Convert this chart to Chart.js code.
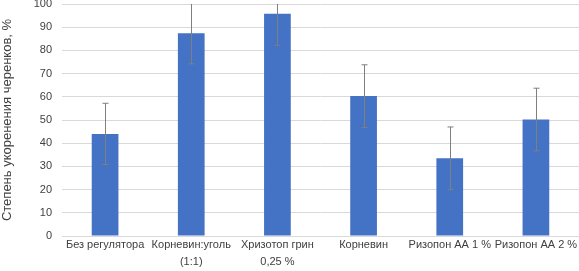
<!DOCTYPE html>
<html lang="ru">
<head>
    <meta charset="UTF-8">
    <title>Степень укоренения черенков</title>
    <script src="https://cdn.jsdelivr.net/npm/chart.js"></script>
    <style>
        body, html {
            margin: 0;
            padding: 0;
            background: #ffffff;
        }
        .chart-container {
            position: relative;
            width: 579px;
            height: 271px;
        }
    </style>
</head>
<body>
    <div class="chart-container">
        <canvas id="rootingChart"></canvas>
    </div>

    <script>
        const categories = [
            'Без регулятора',
            ['Корневин:уголь', '(1:1)'],
            ['Хризотоп грин', '0,25 %'],
            'Корневин',
            'Ризопон АА 1 %',
            'Ризопон АА 2 %'
        ];
        const rootingValues = [44, 87.4, 95.8, 60.3, 33.5, 50.2];
        const errorValues = [13.2, 13.2, 13.6, 13.5, 13.5, 13.5];
        const yTitle = 'Степень укоренения черенков, %';

        const fontFamily = "'Liberation Sans', Arial, sans-serif";

        // error bars drawn with the chart's own scales, clipped to the plot area
        const errorBarPlugin = {
            id: 'errorBars',
            afterDatasetsDraw(chart) {
                const ctx = chart.ctx;
                const meta = chart.getDatasetMeta(0);
                const yScale = chart.scales.y;
                const area = chart.chartArea;
                ctx.save();
                ctx.beginPath();
                ctx.rect(area.left, area.top, area.right - area.left, area.bottom - area.top);
                ctx.clip();
                ctx.strokeStyle = '#7f7f7f';
                ctx.lineWidth = 1;
                meta.data.forEach((bar, i) => {
                    const x = Math.round(bar.x) + 0.5;
                    const yHi = yScale.getPixelForValue(rootingValues[i] + errorValues[i]);
                    const yLo = yScale.getPixelForValue(rootingValues[i] - errorValues[i]);
                    ctx.beginPath();
                    ctx.moveTo(x, yHi);
                    ctx.lineTo(x, yLo);
                    ctx.moveTo(x - 3, yHi);
                    ctx.lineTo(x + 3, yHi);
                    ctx.moveTo(x - 3, yLo);
                    ctx.lineTo(x + 3, yLo);
                    ctx.stroke();
                });
                ctx.restore();
            }
        };

        new Chart(document.getElementById('rootingChart').getContext('2d'), {
            type: 'bar',
            data: {
                labels: categories,
                datasets: [{
                    data: rootingValues,
                    backgroundColor: '#4472c4',
                    barPercentage: 0.31,
                    categoryPercentage: 1
                }]
            },
            options: {
                responsive: true,
                maintainAspectRatio: false,
                animation: false,
                layout: { padding: { top: 4, right: -3, left: 0, bottom: 0 } },
                plugins: {
                    legend: { display: false },
                    tooltip: { enabled: false }
                },
                scales: {
                    x: {
                        grid: { display: false, drawTicks: false },
                        border: { color: '#d9d9d9' },
                        ticks: {
                            color: '#404040',
                            font: { family: fontFamily, size: 11, lineHeight: 1.5 },
                            maxRotation: 0,
                            autoSkip: false,
                            padding: 1
                        }
                    },
                    y: {
                        min: 0,
                        max: 100,
                        afterFit: (scale) => {
                            scale.width = 62;
                            scale.paddingTop = 0;
                            scale.paddingBottom = 0;
                        },
                        ticks: {
                            stepSize: 10,
                            color: '#404040',
                            font: { family: fontFamily, size: 11 },
                            padding: 10
                        },
                        grid: { color: '#d9d9d9', drawTicks: false },
                        border: { display: false },
                        title: {
                            display: true,
                            text: yTitle,
                            color: '#404040',
                            font: { family: fontFamily, size: 13 },
                            padding: 0
                        }
                    }
                }
            },
            plugins: [errorBarPlugin]
        });
    </script>
</body>
</html>
